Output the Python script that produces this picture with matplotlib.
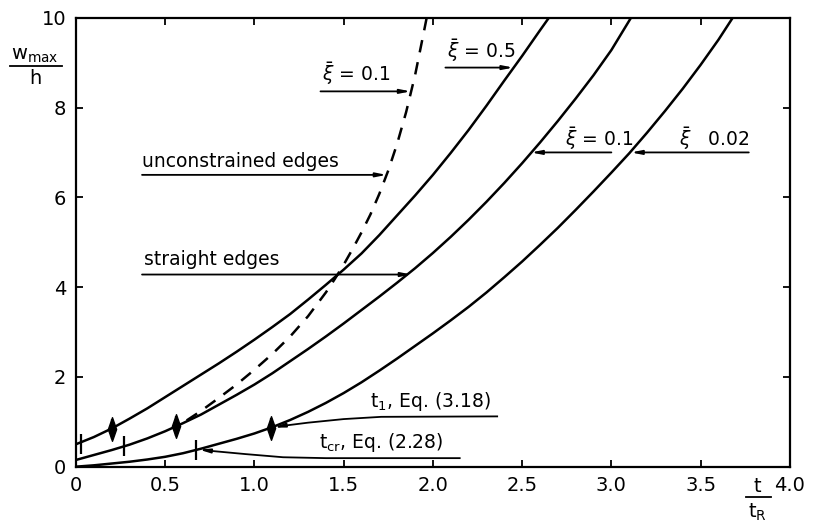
import numpy as np
import matplotlib.pyplot as plt
from matplotlib.path import Path
from matplotlib.lines import Line2D

# t/t_R and w_max/h
# straight edges, xi = 0.5
t_xi05 = [0, 0.1, 0.2, 0.3, 0.4, 0.5, 0.6, 0.7, 0.8, 0.9, 1.0, 1.1, 1.2, 1.3,
          1.4, 1.5, 1.6, 1.7, 1.8, 1.9, 2.0, 2.1, 2.2, 2.3, 2.4, 2.5, 2.6, 2.65]
w_xi05 = [0.5, 0.66, 0.85, 1.07, 1.3, 1.55, 1.8, 2.05, 2.3, 2.56, 2.83, 3.11, 3.4, 3.72,
          4.05, 4.39, 4.75, 5.16, 5.6, 6.04, 6.5, 6.99, 7.5, 8.04, 8.6, 9.15, 9.72, 10.0]

# straight edges, xi = 0.1
t_xi01 = [0, 0.1, 0.2, 0.3, 0.4, 0.5, 0.6, 0.7, 0.8, 0.9, 1.0, 1.1, 1.2, 1.3, 1.4,
          1.5, 1.6, 1.7, 1.8, 1.9, 2.0, 2.1, 2.2, 2.3, 2.4, 2.5, 2.6, 2.7, 2.8, 2.9,
          3.0, 3.11]
w_xi01 = [0.15, 0.26, 0.37, 0.49, 0.63, 0.79, 0.97, 1.16, 1.38, 1.6, 1.83, 2.08, 2.35, 2.62, 2.9,
          3.19, 3.49, 3.79, 4.1, 4.42, 4.76, 5.12, 5.5, 5.9, 6.32, 6.76, 7.22, 7.7, 8.2, 8.72,
          9.28, 10.0]

# straight edges, xi = 0.02
t_xi002 = [0, 0.1, 0.2, 0.3, 0.4, 0.5, 0.6, 0.7, 0.8, 0.9, 1.0, 1.1, 1.2, 1.3, 1.4,
           1.5, 1.6, 1.7, 1.8, 1.9, 2.0, 2.1, 2.2, 2.3, 2.4, 2.5, 2.6, 2.7, 2.8, 2.9,
           3.0, 3.1, 3.2, 3.3, 3.4, 3.5, 3.6, 3.68]
w_xi002 = [0, 0.03, 0.07, 0.11, 0.16, 0.22, 0.3, 0.4, 0.51, 0.62, 0.74, 0.88, 1.04, 1.22, 1.42,
           1.64, 1.88, 2.14, 2.41, 2.69, 2.97, 3.26, 3.56, 3.88, 4.22, 4.57, 4.94, 5.32, 5.72, 6.13,
           6.55, 6.98, 7.44, 7.92, 8.42, 8.95, 9.51, 10.0]

# unconstrained edges, xi = 0.1
t_unc = [0.62, 0.7, 0.8, 0.9, 1.0, 1.1, 1.2, 1.3, 1.4, 1.45, 1.5, 1.55, 1.6, 1.65,
         1.7, 1.75, 1.8, 1.85, 1.9, 1.95, 1.965]
w_unc = [1.03, 1.24, 1.53, 1.83, 2.16, 2.51, 2.9, 3.35, 3.88, 4.18, 4.5, 4.85, 5.22, 5.62,
         6.08, 6.6, 7.2, 7.9, 8.72, 9.7, 10.0]

# t_cr and t_1 marks on the three solid curves
tcr_t = [0.03, 0.27, 0.67]
tcr_w = [0.5, 0.45, 0.38]
t1_t = [0.2, 0.56, 1.09]
t1_w = [0.85, 0.9, 0.87]

xticks = [0, 0.5, 1.0, 1.5, 2.0, 2.5, 3.0, 3.5, 4.0]
xlabels = ['0', '0.5', '1.0', '1.5', '2.0', '2.5', '3.0', '3.5', '4.0']
yticks = [0, 2, 4, 6, 8, 10]

plt.rcParams['font.family'] = 'DejaVu Sans'
plt.rcParams['mathtext.fontset'] = 'dejavusans'

fig = plt.figure(figsize=(8.13, 5.22), dpi=100)
ax = fig.add_axes([0.0935, 0.106, 0.878, 0.86])
ax.set_xlim(0, 4.0)
ax.set_ylim(0, 10)

lw = 1.8
ax.plot(t_xi05, w_xi05, color='black', lw=lw)
ax.plot(t_xi01, w_xi01, color='black', lw=lw)
ax.plot(t_xi002, w_xi002, color='black', lw=lw)
ax.plot(t_unc, w_unc, color='black', lw=lw, dashes=(5, 4))

# markers
diamond = Path([(0, 1), (0.35, 0), (0, -1), (-0.35, 0), (0, 1)],
               [Path.MOVETO, Path.LINETO, Path.LINETO, Path.LINETO, Path.CLOSEPOLY])
ax.plot(t1_t, t1_w, ls='none', marker=diamond, ms=17, color='black')
ax.plot(tcr_t + t1_t, tcr_w + t1_w, ls='none', marker='|', ms=15, mew=1.6, color='black')

# leader lines
arrow = dict(arrowstyle='-|>,head_length=0.6,head_width=0.12', lw=1.3,
             color='black', shrinkA=0, shrinkB=0)
fs = 13.5
xi = r'$\bar{\xi}$'


def leader(text, x0, x1, y, xt, yt):
    ax.annotate('', xy=(x1, y), xytext=(x0, y), arrowprops=arrow)
    ax.text(xt, yt, text, fontsize=fs, va='baseline', ha='left')


leader(xi + ' = 0.1', 1.37, 1.875, 8.36, 1.38, 8.58)
leader(xi + ' = 0.5', 2.07, 2.45, 8.89, 2.08, 9.1)
leader('unconstrained edges', 0.37, 1.74, 6.5, 0.37, 6.68)
leader('straight edges', 0.37, 1.88, 4.28, 0.38, 4.5)
ax.annotate('', xy=(2.55, 7.0), xytext=(3.0, 7.0), arrowprops=arrow)
ax.text(2.74, 7.14, xi + ' = 0.1', fontsize=fs, va='baseline')
ax.annotate('', xy=(3.11, 7.0), xytext=(3.77, 7.0), arrowprops=arrow)
ax.text(3.38, 7.14, xi + '   0.02', fontsize=fs, va='baseline')

# t1 and tcr leaders (bent lines running into the marks)
t1_lead_t = [2.36, 1.71, 1.5, 1.3, 1.16]
t1_lead_w = [1.12, 1.11, 1.06, 0.98, 0.91]
ax.plot(t1_lead_t, t1_lead_w, color='black', lw=1.3)
ax.annotate('', xy=(t1_t[2] + 0.02, t1_w[2]), xytext=(t1_lead_t[-1], t1_lead_w[-1]),
            arrowprops=arrow)
ax.text(1.65, 1.33, r'$\mathregular{t_1}$, Eq. (3.18)', fontsize=fs, va='baseline')

tcr_lead_t = [2.15, 1.4, 1.16, 0.95, 0.76]
tcr_lead_w = [0.19, 0.19, 0.21, 0.28, 0.35]
ax.plot(tcr_lead_t, tcr_lead_w, color='black', lw=1.3)
ax.annotate('', xy=(tcr_t[2] + 0.02, tcr_w[2]), xytext=(tcr_lead_t[-1], tcr_lead_w[-1]),
            arrowprops=arrow)
ax.text(1.36, 0.42, r'$\mathregular{t_{cr}}$, Eq. (2.28)', fontsize=fs, va='baseline')

# axes styling
for s in ax.spines.values():
    s.set_linewidth(1.6)
ax.set_xticks(xticks)
ax.set_xticklabels(xlabels)
ax.set_yticks(yticks)
ax.tick_params(direction='in', length=5, width=1.3, top=True, right=True,
               labelsize=14, pad=7)

# axis labels drawn as fractions
fig.text(0.043, 0.885, r'$\mathregular{w_{max}}$', fontsize=14, ha='center', va='baseline')
fig.add_artist(Line2D([0.012, 0.076], [0.873, 0.873], color='black', lw=1.3))
fig.text(0.043, 0.84, 'h', fontsize=14, ha='center', va='baseline')

fig.text(0.932, 0.058, 't', fontsize=14, ha='center', va='baseline')
fig.add_artist(Line2D([0.917, 0.948], [0.048, 0.048], color='black', lw=1.3))
fig.text(0.932, 0.008, r'$\mathregular{t_R}$', fontsize=14, ha='center', va='baseline')

fig.savefig('out.png', dpi=100)
